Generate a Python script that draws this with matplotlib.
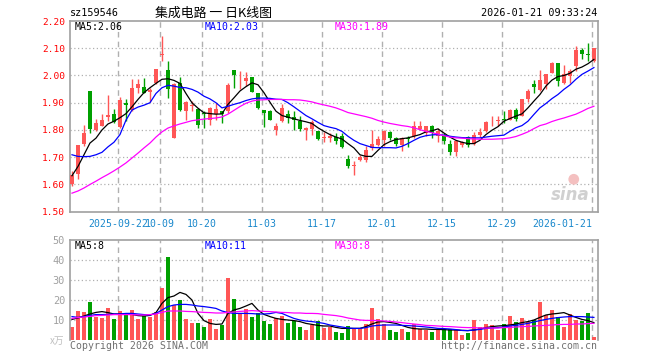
import matplotlib
matplotlib.use("Agg")
import matplotlib.pyplot as plt
import numpy as np

# ---- data (sz159546, daily) ----
opens = [
    1.602, 1.638, 1.749, 1.942, 1.799, 1.816, 1.847, 1.857, 1.810, 1.900,
    1.875, 1.954, 1.956, 1.939, 1.973, 2.077, 2.019, 1.772, 1.973, 1.869,
    1.889, 1.878, 1.863, 1.838, 1.857, 1.868, 1.868, 2.019, 1.978, 1.980,
    1.993, 1.934, 1.873, 1.868, 1.800, 1.832, 1.857, 1.848, 1.832, 1.801,
    1.804, 1.798, 1.770, 1.771, 1.773, 1.779, 1.695, 1.669, 1.688, 1.691,
    1.734, 1.746, 1.762, 1.793, 1.769, 1.743, 1.771, 1.779, 1.805, 1.789,
    1.816, 1.777, 1.783, 1.750, 1.718, 1.746, 1.773, 1.750, 1.783, 1.795,
    1.835, 1.833, 1.841, 1.838, 1.875, 1.853, 1.912, 1.967, 1.945, 1.967,
    2.010, 2.045, 1.973, 1.998, 2.035, 2.093, 2.078, 2.053]
closes = [
    1.636, 1.745, 1.789, 1.805, 1.824, 1.838, 1.856, 1.831, 1.910, 1.891,
    1.955, 1.967, 1.935, 1.946, 2.023, 2.079, 1.949, 1.969, 1.875, 1.902,
    1.892, 1.817, 1.857, 1.881, 1.878, 1.859, 1.964, 2.000, 1.981, 1.992,
    1.940, 1.880, 1.863, 1.838, 1.814, 1.881, 1.845, 1.836, 1.804, 1.808,
    1.830, 1.768, 1.773, 1.777, 1.758, 1.738, 1.666, 1.673, 1.700, 1.728,
    1.750, 1.767, 1.795, 1.769, 1.750, 1.771, 1.767, 1.816, 1.813, 1.813,
    1.789, 1.798, 1.758, 1.718, 1.758, 1.755, 1.746, 1.783, 1.794, 1.831,
    1.838, 1.837, 1.836, 1.873, 1.841, 1.912, 1.943, 1.957, 1.982, 2.004,
    2.047, 1.980, 2.004, 2.016, 2.093, 2.078, 2.074, 2.100]
highs = [
    1.650, 1.745, 1.820, 1.942, 1.841, 1.859, 1.930, 1.878, 1.922, 1.915,
    1.988, 1.988, 1.992, 1.955, 2.025, 2.145, 2.053, 1.972, 1.994, 1.905,
    1.906, 1.880, 1.868, 1.884, 1.900, 1.869, 1.973, 2.019, 2.016, 2.014,
    1.996, 1.937, 1.875, 1.875, 1.826, 1.894, 1.875, 1.869, 1.851, 1.810,
    1.835, 1.798, 1.792, 1.789, 1.789, 1.789, 1.709, 1.687, 1.709, 1.742,
    1.801, 1.777, 1.801, 1.795, 1.775, 1.775, 1.779, 1.832, 1.832, 1.814,
    1.820, 1.808, 1.789, 1.762, 1.762, 1.758, 1.777, 1.792, 1.806, 1.832,
    1.851, 1.851, 1.869, 1.878, 1.881, 1.914, 1.949, 1.983, 2.019, 2.006,
    2.049, 2.047, 2.037, 2.022, 2.109, 2.102, 2.118, 2.102]
lows = [
    1.595, 1.620, 1.742, 1.788, 1.795, 1.814, 1.832, 1.826, 1.806, 1.832,
    1.871, 1.937, 1.934, 1.903, 1.970, 2.053, 1.916, 1.770, 1.869, 1.838,
    1.869, 1.808, 1.808, 1.820, 1.835, 1.825, 1.863, 1.955, 1.949, 1.961,
    1.940, 1.878, 1.810, 1.836, 1.783, 1.830, 1.826, 1.800, 1.795, 1.762,
    1.783, 1.765, 1.756, 1.755, 1.749, 1.735, 1.660, 1.633, 1.685, 1.681,
    1.728, 1.740, 1.740, 1.765, 1.740, 1.722, 1.736, 1.771, 1.800, 1.777,
    1.771, 1.755, 1.750, 1.709, 1.706, 1.736, 1.738, 1.746, 1.773, 1.791,
    1.814, 1.816, 1.826, 1.836, 1.832, 1.850, 1.902, 1.934, 1.943, 1.949,
    2.008, 1.961, 1.970, 1.973, 2.016, 2.059, 2.053, 2.050]

ma5 = [
    1.632, 1.666, 1.709, 1.752, 1.770, 1.800, 1.822, 1.832, 1.845, 1.860,
    1.885, 1.912, 1.937, 1.955, 1.971, 1.986, 1.988, 1.982, 1.971, 1.934,
    1.900, 1.880, 1.863, 1.860, 1.858, 1.859, 1.894, 1.918, 1.943, 1.959,
    1.973, 1.966, 1.937, 1.902, 1.869, 1.853, 1.847, 1.841, 1.835, 1.830,
    1.824, 1.808, 1.795, 1.783, 1.774, 1.767, 1.750, 1.734, 1.709, 1.703,
    1.703, 1.725, 1.746, 1.757, 1.765, 1.768, 1.771, 1.777, 1.783, 1.793,
    1.797, 1.804, 1.789, 1.774, 1.762, 1.755, 1.750, 1.750, 1.762, 1.783,
    1.799, 1.812, 1.832, 1.842, 1.851, 1.859, 1.881, 1.906, 1.930, 1.961,
    1.983, 1.996, 2.000, 2.008, 2.023, 2.031, 2.043, 2.059]
ma10 = [
    1.709, 1.703, 1.702, 1.703, 1.709, 1.718, 1.738, 1.755, 1.783, 1.836,
    1.873, 1.884, 1.891, 1.900, 1.934, 1.955, 1.964, 1.961, 1.956, 1.955,
    1.949, 1.939, 1.924, 1.914, 1.900, 1.881, 1.887, 1.894, 1.900, 1.908,
    1.914, 1.917, 1.917, 1.916, 1.913, 1.912, 1.900, 1.885, 1.869, 1.853,
    1.841, 1.828, 1.816, 1.810, 1.805, 1.795, 1.777, 1.762, 1.750, 1.743,
    1.736, 1.735, 1.735, 1.735, 1.734, 1.740, 1.750, 1.762, 1.773, 1.779,
    1.782, 1.783, 1.781, 1.777, 1.774, 1.772, 1.771, 1.771, 1.771, 1.774,
    1.777, 1.779, 1.781, 1.795, 1.808, 1.816, 1.832, 1.857, 1.881, 1.897,
    1.915, 1.930, 1.949, 1.965, 1.986, 2.004, 2.016, 2.029]
ma30 = [
    1.568, 1.576, 1.587, 1.600, 1.612, 1.625, 1.637, 1.650, 1.664, 1.679,
    1.697, 1.715, 1.734, 1.752, 1.774, 1.793, 1.807, 1.815, 1.822, 1.828,
    1.834, 1.837, 1.840, 1.842, 1.844, 1.848, 1.858, 1.872, 1.886, 1.898,
    1.906, 1.910, 1.911, 1.912, 1.912, 1.912, 1.911, 1.911, 1.910, 1.907,
    1.903, 1.897, 1.892, 1.887, 1.881, 1.873, 1.864, 1.859, 1.854, 1.849,
    1.843, 1.835, 1.829, 1.824, 1.820, 1.816, 1.813, 1.808, 1.801, 1.795,
    1.790, 1.785, 1.779, 1.774, 1.771, 1.770, 1.768, 1.767, 1.766, 1.766,
    1.766, 1.767, 1.768, 1.771, 1.776, 1.784, 1.793, 1.805, 1.816, 1.822,
    1.831, 1.838, 1.844, 1.851, 1.858, 1.868, 1.879, 1.887]

volume = [
    6.5, 14.5, 13.8, 19.0, 11.7, 11.2, 16.0, 10.5, 14.5, 13.0,
    15.0, 10.5, 12.2, 11.5, 13.8, 26.0, 41.5, 17.5, 20.0, 10.5,
    8.5, 8.5, 6.5, 10.5, 5.5, 7.5, 31.0, 20.5, 13.5, 15.5,
    11.5, 13.5, 9.5, 8.0, 11.0, 12.0, 8.5, 9.5, 6.5, 5.0,
    7.3, 9.5, 6.2, 6.7, 4.0, 3.5, 7.0, 5.8, 5.8, 8.0,
    16.0, 10.5, 8.0, 5.0, 4.0, 5.5, 4.0, 8.0, 5.5, 5.0,
    4.0, 5.5, 5.5, 5.5, 5.0, 2.5, 3.5, 10.0, 6.5, 8.0,
    7.5, 5.0, 8.0, 12.0, 9.0, 11.0, 9.0, 10.0, 19.0, 12.5,
    15.0, 11.3, 6.5, 13.0, 10.0, 9.7, 13.5, 1.5]
vma5 = [
    10.3, 11.0, 12.0, 13.0, 13.8, 14.2, 13.7, 13.0, 13.0, 13.0,
    12.8, 12.2, 12.0, 12.3, 13.7, 18.3, 21.2, 22.0, 23.8, 22.8,
    20.0, 13.3, 9.7, 8.3, 7.8, 8.0, 13.3, 15.0, 15.8, 17.0,
    18.3, 15.0, 12.8, 11.7, 10.8, 10.3, 10.0, 9.7, 9.2, 8.3,
    7.8, 7.3, 7.0, 7.0, 6.3, 5.8, 5.8, 5.8, 5.8, 6.7,
    8.0, 9.0, 9.2, 8.8, 8.3, 7.3, 6.3, 5.7, 5.5, 5.5,
    5.3, 5.3, 5.2, 5.0, 5.0, 4.8, 4.7, 5.0, 5.5, 6.2,
    6.7, 7.0, 7.2, 7.5, 8.0, 8.7, 9.2, 10.0, 11.3, 12.5,
    13.0, 13.3, 13.7, 12.5, 11.3, 10.3, 9.7, 8.7]
vma10 = [
    11.7, 11.3, 11.7, 12.3, 12.7, 12.7, 12.8, 13.0, 13.0, 13.3,
    13.3, 13.0, 12.7, 12.5, 13.3, 15.0, 16.7, 17.5, 17.8, 17.8,
    17.5, 17.0, 16.7, 16.3, 15.8, 14.5, 13.7, 13.3, 13.3, 13.3,
    13.2, 13.0, 13.0, 13.2, 13.8, 13.3, 12.0, 10.8, 10.0, 9.5,
    9.2, 8.8, 8.3, 7.5, 7.0, 6.5, 6.0, 5.8, 5.8, 6.2,
    7.0, 7.3, 7.5, 7.5, 7.5, 7.3, 7.2, 7.0, 6.8, 6.5,
    6.2, 5.8, 5.7, 5.5, 5.2, 4.8, 4.7, 5.0, 5.3, 5.8,
    6.0, 6.2, 6.5, 7.0, 7.3, 7.8, 8.3, 9.0, 9.7, 10.3,
    10.8, 11.2, 11.5, 11.7, 11.7, 11.7, 11.5, 11.3]
vma30 = [
    10.8, 11.2, 11.5, 11.8, 12.2, 12.3, 12.5, 12.7, 12.7, 12.7,
    12.7, 12.5, 12.5, 12.7, 13.0, 13.8, 14.5, 14.5, 14.5, 14.3,
    14.2, 14.0, 13.8, 13.7, 13.5, 13.5, 13.8, 14.0, 14.3, 14.5,
    14.7, 14.5, 14.3, 14.2, 14.0, 13.8, 13.7, 13.5, 13.5, 13.3,
    13.3, 13.2, 12.8, 12.5, 12.2, 11.7, 11.0, 10.5, 10.0, 9.8,
    9.8, 9.7, 9.5, 9.3, 9.0, 8.7, 8.3, 8.0, 7.7, 7.3,
    7.2, 7.0, 6.8, 6.7, 6.5, 6.3, 6.2, 6.2, 6.0, 6.0,
    6.0, 6.0, 6.2, 6.3, 6.5, 6.7, 6.8, 7.0, 7.2, 7.3,
    7.5, 7.7, 7.8, 7.8, 8.0, 8.0, 8.2, 8.3]

date_idx = [8, 15, 22, 32, 42, 52, 62, 72, 87]
date_labels = ["2025-09-22", "10-09", "10-20", "11-03", "11-17",
               "12-01", "12-15", "12-29", "2026-01-21"]
price_ticks = [1.50, 1.60, 1.70, 1.80, 1.90, 2.00, 2.10, 2.20]
vol_ticks = [10, 20, 30, 40, 50]

RED = "#ff5656"
GREEN = "#00a000"
FRAME = "#a0a0a0"
GRID = "#b0b0b0"
MONO = "DejaVu Sans Mono"
CJK = ["Noto Sans CJK SC", "DejaVu Sans"]

W, H = 660, 360


def ftext(x, y, s, **kw):
    """text at figure pixel coords (origin top-left)"""
    fig.text(x / W, 1 - y / H, s, **kw)


fig = plt.figure(figsize=(W / 100, H / 100), dpi=100)
ax = fig.add_axes([70 / W, 1 - 211.7 / H, 527.5 / W, 190.7 / H])
axv = fig.add_axes([70 / W, 1 - 340 / H, 527.5 / W, 100 / H])

o = np.array(opens)
c = np.array(closes)
x = np.arange(len(c))
cols = np.where(c >= o, RED, GREEN)
xl = (-0.33, 87.6)
grid_x = np.array(date_idx) - 0.3

# ---- price panel ----
for g in price_ticks[1:-1]:
    ax.axhline(g, color=GRID, lw=0.9, ls=(0, (1, 2)), zorder=0)
for g in grid_x:
    ax.axvline(g, color=GRID, lw=1, ls=(0, (4, 3)), zorder=0)

ax.vlines(x, lows, highs, colors=cols, lw=1, zorder=2)
body = np.maximum(np.abs(c - o), 0.003)
ax.bar(x, body, bottom=np.minimum(o, c), width=0.72, color=cols, lw=0, zorder=3)
ax.plot(x, ma5, color="black", lw=0.9, zorder=4)
ax.plot(x, ma10, color="#0000ff", lw=0.9, zorder=4)
ax.plot(x, ma30, color="#ff00ff", lw=0.9, zorder=4)

ax.set_xlim(*xl)
ax.set_ylim(1.50, 2.20)
ax.set_yticks(price_ticks)
ax.set_yticklabels([f"{t:.2f}" for t in price_ticks], color="red", family=MONO, fontsize=6.8)
ax.set_xticks(grid_x)
ax.set_xticklabels(date_labels, color="#1a88cc", family=MONO, fontsize=7.1)
ax.get_xticklabels()[-1].set_horizontalalignment("right")
ax.tick_params(length=0, pad=3.6, axis="y")
ax.tick_params(length=0, pad=5, axis="x")
for s in ax.spines.values():
    s.set_color(FRAME)
    s.set_linewidth(1.2)

# watermark
ax.text(0.985, 0.04, "sina", transform=ax.transAxes, ha="right", va="bottom",
        fontsize=12, fontweight="bold", style="italic", color="#d0d0d0", zorder=1)
ax.scatter([0.955], [0.17], s=60, transform=ax.transAxes, color="#f4c0c0",
           edgecolors="none", zorder=1)

# ---- volume panel ----
for g in vol_ticks[:-1]:
    axv.axhline(g, color=GRID, lw=0.9, ls=(0, (1, 2)), zorder=0)
for g in grid_x:
    axv.axvline(g, color=GRID, lw=1, ls=(0, (4, 3)), zorder=0)
axv.bar(x, volume, width=0.8, color=cols, lw=0, zorder=2)
axv.plot(x, vma5, color="black", lw=0.9, zorder=3)
axv.plot(x, vma10, color="#0000ff", lw=0.9, zorder=3)
axv.plot(x, vma30, color="#ff00ff", lw=0.9, zorder=3)
axv.set_xlim(*xl)
axv.set_ylim(0, 50)
axv.set_xticks([])
axv.set_yticks(vol_ticks)
axv.set_yticklabels([str(t) for t in vol_ticks], color="#a0a0a0", family=MONO, fontsize=7.4)
axv.tick_params(length=0, pad=3.6)
for s in axv.spines.values():
    s.set_color(FRAME)
    s.set_linewidth(1.2)
axv.spines["bottom"].set_visible(False)

# ---- texts ----
ftext(70, 13.5, "sz159546", family=MONO, fontsize=7.3, va="center")
ftext(213, 13.5, "集成电路 一 日K线图", family=CJK, fontsize=9.3, va="center", ha="center")
ftext(597, 13.5, "2026-01-21 09:33:24", family=MONO, fontsize=7.3, va="center", ha="right")

ftext(75, 26.5, "MA5:2.06", family=MONO, fontsize=7.1, va="center", color="black")
ftext(205, 26.5, "MA10:2.03", family=MONO, fontsize=7.1, va="center", color="#0000ff")
ftext(335, 26.5, "MA30:1.89", family=MONO, fontsize=7.1, va="center", color="#ff00ff")

ftext(75, 246, "MA5:8", family=MONO, fontsize=7.1, va="center", color="black")
ftext(205, 246, "MA10:11", family=MONO, fontsize=7.1, va="center", color="#0000ff")
ftext(335, 246, "MA30:8", family=MONO, fontsize=7.1, va="center", color="#ff00ff")

ftext(64, 341, "x万", family=CJK, fontsize=7, va="center", ha="right", color="#c0c0c0")
ftext(70, 346, "Copyright 2026 SINA.COM", family=MONO, fontsize=7.1, va="center", color="#707070")
ftext(597, 346, "http://finance.sina.com.cn", family=MONO, fontsize=7.1, va="center",
      ha="right", color="#707070")

fig.savefig("out.png", dpi=100)
